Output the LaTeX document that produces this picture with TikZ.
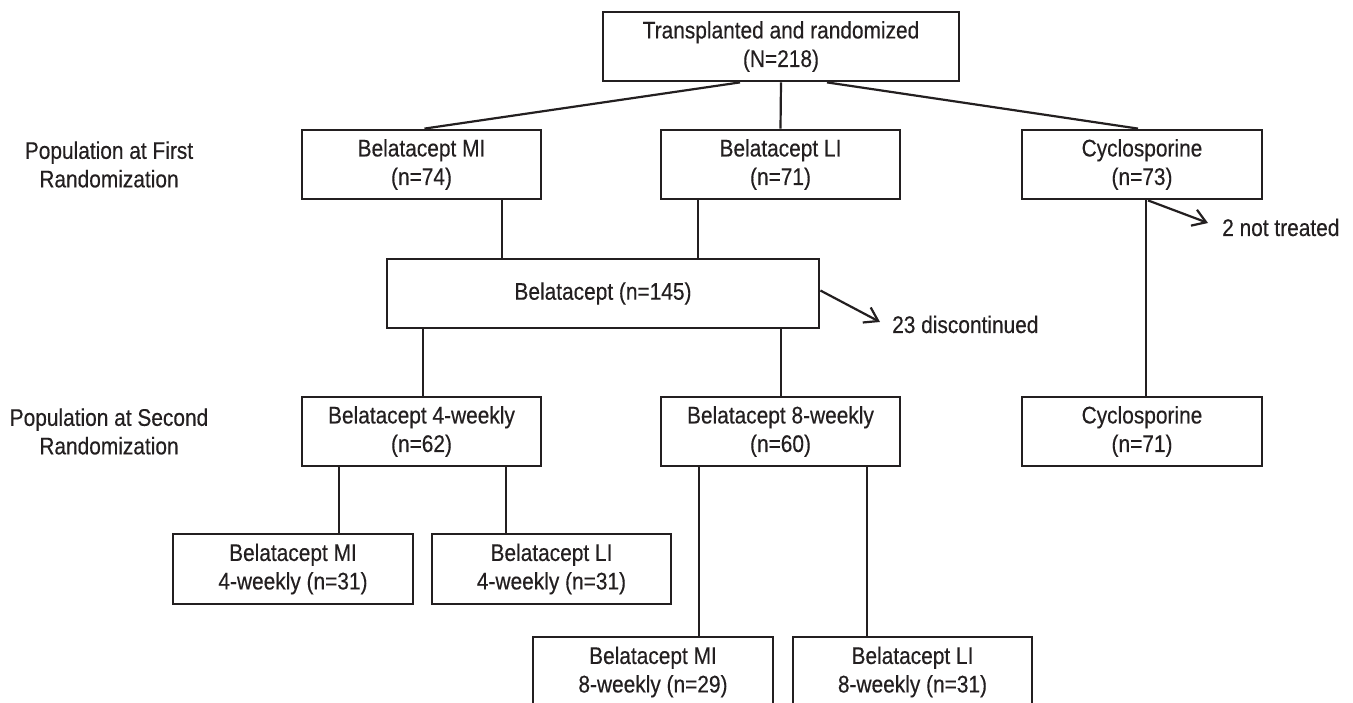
\documentclass[tikz,border=0pt]{standalone}
\usepackage{fontspec}
\setmainfont{Liberation Sans}[FakeStretch=0.87,FakeBold=0.35]
\usetikzlibrary{arrows.meta}
\definecolor{ink}{HTML}{231F20}
\begin{document}
\begin{tikzpicture}[x=1pt,y=-1pt,
  every node/.style={font=\fontsize{24}{28.5}\selectfont, text=ink},
  box/.style={draw=ink, line width=2.8pt, inner sep=0pt, align=center, minimum height=69pt},
  lbl/.style={align=center, inner sep=0pt},
  conn/.style={draw=ink, line width=2.2pt},
  outarrow/.style={draw=ink, line width=2.2pt, -{Straight Barb[length=13pt,width=17pt,line width=2.2pt]}}
]
\path[use as bounding box, fill=white] (0,0) rectangle (1353,703);
\clip (0,0) rectangle (1353,703);

% boxes
\node[box, minimum width=356pt] (top) at (781,46.5) {Transplanted and randomized\\(N=218)};
\node[box, minimum width=239pt] (mi1) at (421.5,164.5) {Belatacept MI\\(n=74)};
\node[box, minimum width=239pt] (li1) at (780.5,164.5) {Belatacept LI\\(n=71)};
\node[box, minimum width=240pt] (cyc1) at (1142,164.5) {Cyclosporine\\(n=73)};
\node[box, minimum width=432pt] (bel) at (603,293.5) {Belatacept (n=145)};
\node[box, minimum width=239pt] (w4) at (421.5,431.5) {Belatacept 4-weekly\\(n=62)};
\node[box, minimum width=239pt] (w8) at (780.5,431.5) {Belatacept 8-weekly\\(n=60)};
\node[box, minimum width=240pt] (cyc2) at (1142,431.5) {Cyclosporine\\(n=71)};
\node[box, minimum width=240pt, minimum height=70pt] (mi4) at (293,569) {Belatacept MI\\4-weekly (n=31)};
\node[box, minimum width=239pt, minimum height=70pt] (li4) at (551.5,569) {Belatacept LI\\4-weekly (n=31)};
\node[box, minimum width=240pt, minimum height=70pt] (mi8) at (653,672) {Belatacept MI\\8-weekly (n=29)};
\node[box, minimum width=239pt, minimum height=70pt] (li8) at (912.5,672) {Belatacept LI\\8-weekly (n=31)};

% side labels
\node[lbl] (pop1) at (109,164.5) {Population at First\\Randomization};
\node[lbl] (pop2) at (109,431.5) {Population at Second\\Randomization};

% connectors
\draw[conn] ([xshift=-41pt]top.south) -- ([xshift=3pt]mi1.north);
\draw[conn] (top.south) -- (li1.north);
\draw[conn] ([xshift=46pt]top.south) -- ([xshift=-4pt]cyc1.north);

\draw[conn] ([xshift=80.5pt]mi1.south) -- ([xshift=80.5pt]mi1.south |- bel.north);
\draw[conn] ([xshift=-82.5pt]li1.south) -- ([xshift=-82.5pt]li1.south |- bel.north);

\draw[conn] ([xshift=-180pt]bel.south) -- ([xshift=-180pt]bel.south |- w4.north);
\draw[conn] ([xshift=178pt]bel.south) -- ([xshift=178pt]bel.south |- w8.north);
\draw[conn] ([xshift=4pt]cyc1.south) -- ([xshift=4pt]cyc1.south |- cyc2.north);

\draw[conn] ([xshift=-82.5pt]w4.south) -- ([xshift=-82.5pt]w4.south |- mi4.north);
\draw[conn] ([xshift=84.5pt]w4.south) -- ([xshift=84.5pt]w4.south |- li4.north);
\draw[conn] ([xshift=-81.5pt]w8.south) -- ([xshift=-81.5pt]w8.south |- mi8.north);
\draw[conn] ([xshift=86.5pt]w8.south) -- ([xshift=86.5pt]w8.south |- li8.north);

% side arrows
\coordinate (dend) at (880,322);
\coordinate (nend) at (1208,223);
\node[lbl, anchor=base west] (disc) at (892,333) {23 discontinued};
\node[lbl, anchor=base west] (nt) at (1222,236) {2 not treated};
\draw[outarrow] ([yshift=3pt]bel.east) -- (dend);
\draw[outarrow] ([xshift=6pt]cyc1.south) -- (nend);
\end{tikzpicture}
\end{document}
